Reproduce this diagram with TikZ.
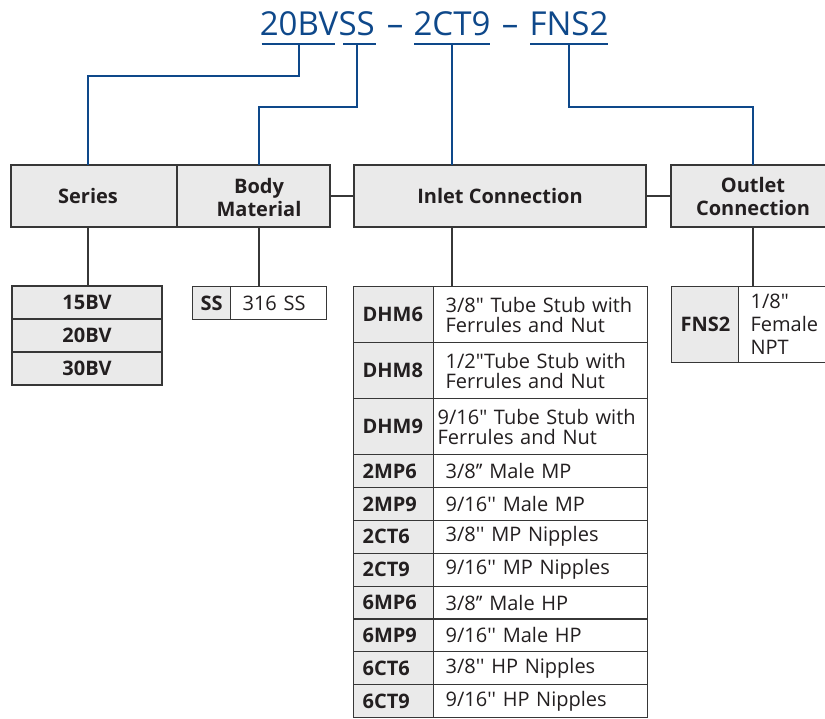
\documentclass[tikz,border=0pt]{standalone}
\usepackage{fontspec}
\setmainfont{Open Sans}[Ligatures=TeXOff]
\usepackage{tikz}
\usetikzlibrary{positioning}
\definecolor{TitleBlue}{RGB}{14, 72, 138}
\definecolor{LineGray}{RGB}{55, 55, 55}
\definecolor{CellGray}{RGB}{234, 234, 234}
\definecolor{InkGray}{RGB}{35, 31, 32}

\tikzset{
  title/.style={anchor=base, inner sep=0pt, text=TitleBlue, font=\fontsize{33}{33}\selectfont},
  blueline/.style={draw=TitleBlue, line width=2pt},
  grayline/.style={draw=LineGray, line width=1.2pt},
  hdrbox/.style={draw=LineGray, line width=1.2pt, fill=CellGray, anchor=north west, minimum height=62pt, inner sep=0pt, outer sep=0pt},
  hdrtext/.style={inner sep=0pt, align=center, text=InkGray, font=\bfseries\fontsize{20}{23}\selectfont},
  serrow/.style={draw=LineGray, line width=1.2pt, fill=CellGray, anchor=north west, minimum width=150pt, minimum height=33pt, inner sep=0pt, outer sep=0pt, text=InkGray, font=\bfseries\fontsize{20}{20}\selectfont},
  codecell/.style={draw=LineGray, line width=1.2pt, fill=CellGray, anchor=north west, inner xsep=9pt, inner ysep=0pt, align=left, text=InkGray, font=\bfseries\fontsize{20}{20}\selectfont},
  desccell/.style={draw=LineGray, line width=1.2pt, fill=white, anchor=north west, inner xsep=12pt, inner ysep=0pt, align=left, text=InkGray, font=\fontsize{20}{20}\selectfont}
}

\begin{document}
\begin{tikzpicture}[x=1pt, y=-1pt]
    \useasboundingbox (0,0) rectangle (825,718);

    % Model number
    \node[title] (t20bv) at (299,35) {20BV};
    \node[title, anchor=base west] (tss) at (t20bv.base east) {SS};
    \node[title] (tdasha) at (395,35) {–};
    \node[title] (t2ct9) at (452,35) {2CT9};
    \node[title] (tdashb) at (510,35) {–};
    \node[title] (tfns2) at (569,35) {FNS2};
    \draw[blueline] ([shift={(2,9)}]t20bv.base west) -- ([shift={(-3,9)}]t20bv.base east);
    \draw[blueline] ([shift={(5,9)}]tss.base west) -- ([shift={(1,9)}]tss.base east);
    \foreach \n in {t2ct9, tfns2}
      \draw[blueline] ([shift={(1,9)}]\n.base west) -- ([shift={(-1,9)}]\n.base east);

    % Headers
    \node[hdrbox, minimum width=166pt] (series) at (11,165) {};
    \node[hdrbox, minimum width=153pt] (body) at (177,165) {};
    \node[hdrbox, minimum width=292pt] (inlet) at (354,165) {};
    \node[hdrbox, minimum width=165pt] (outlet) at (671,165) {};
    \node[hdrtext] (serieslbl) at (88,196) {Series};
    \node[hdrtext] (bodylbl) at (259,197) {Body\\Material};
    \node[hdrtext] (inletlbl) at (inlet.center) {Inlet Connection};
    \node[hdrtext] (outletlbl) at (753,196) {Outlet\\Connection};

    % Blue leaders
    \draw[blueline] ([yshift=-9pt]t20bv.base) -- ++(0,32) -| (serieslbl |- series.north);
    \draw[blueline] ([yshift=-9pt]tss.base) -- ++(0,63) -| (bodylbl |- body.north);
    \draw[blueline] ([yshift=-9pt]t2ct9.base) -- (t2ct9.base |- inlet.north);
    \draw[blueline] ([yshift=-9pt]tfns2.base) -- ++(0,63) -| (outletlbl |- outlet.north);

    \draw[grayline] (body.east) -- (inlet.west);
    \draw[grayline] (inlet.east) -- (outlet.west);

    % Series
    \node[serrow] (s15) at (12,286) {15BV};
    \node[serrow, below=0pt of s15.south west, anchor=north west] (s20) {20BV};
    \node[serrow, below=0pt of s20.south west, anchor=north west] (s30) {30BV};
    \draw[grayline] (serieslbl |- series.south) -- (serieslbl |- s15.north);

    % Body material
    \node[codecell, inner xsep=4pt, text width=30pt, align=center, minimum height=33pt] (css) at (192,286) {SS};
    \node[desccell, text width=72pt, minimum height=33pt] (dss) at (230,286) {316 SS};
    \draw[grayline] (bodylbl |- body.south) -- (bodylbl |- dss.north);

    % Inlet connection
    \node[codecell, text width=62pt, minimum height=56pt] (cDHM6) at (353,286) {DHM6};
    \node[desccell, text width=190pt, minimum height=56pt] (dDHM6) at (433,286) {\mbox{3/8" Tube Stub with}\\Ferrules and Nut};
    \node[codecell, text width=62pt, minimum height=56pt] (cDHM8) at (353,342) {DHM8};
    \node[desccell, text width=190pt, minimum height=56pt] (dDHM8) at (433,342) {\mbox{1/2"Tube Stub with}\\Ferrules and Nut};
    \node[codecell, text width=62pt, minimum height=56pt] (cDHM9) at (353,398) {DHM9};
    \node[desccell, inner xsep=4pt, text width=206pt, minimum height=56pt] (dDHM9) at (433,398) {\mbox{9/16" Tube Stub with}\\Ferrules and Nut};
    \foreach \code/\desc [count=\i from 0] in {2MP6/{3/8’’ Male MP}, 2MP9/{9/16'' Male MP},
        2CT6/{3/8'' MP Nipples}, 2CT9/{9/16'' MP Nipples}, 6MP6/{3/8’’ Male HP},
        6MP9/{9/16'' Male HP}, 6CT6/{3/8'' HP Nipples}, 6CT9/{9/16'' HP Nipples}} {
      \node[codecell, text width=62pt, minimum height=32.875pt] (c\code) at (353,{454+\i*32.875}) {\code};
      \node[desccell, text width=190pt, minimum height=32.875pt] (d\code) at (433,{454+\i*32.875}) {\desc};
    }
    \draw[grayline] (t2ct9.base |- inlet.south) -- (t2ct9.base |- cDHM6.north);

    % Outlet connection
    \node[codecell, text width=49pt, align=center, minimum height=76pt] (cFNS2) at (671,286) {FNS2};
    \node[desccell, font=\fontsize{20}{23}\selectfont, text width=90pt, minimum height=76pt] (dFNS2) at (738,286) {1/8"\\Female\\NPT};
    \draw[grayline] (outletlbl |- outlet.south) -- (outletlbl |- dFNS2.north);
\end{tikzpicture}
\end{document}
